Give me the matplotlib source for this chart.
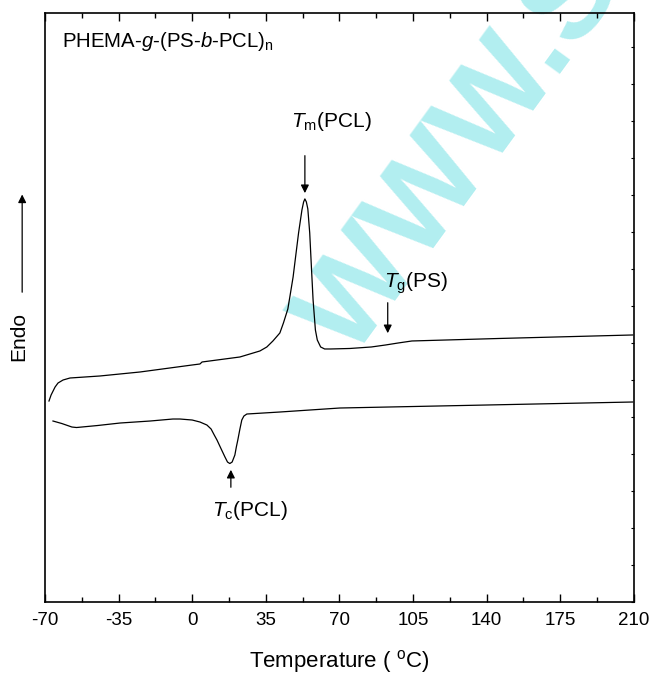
import matplotlib
matplotlib.use("Agg")
import matplotlib.pyplot as plt
from matplotlib.ticker import MultipleLocator

plt.rcParams["font.family"] = ["Liberation Sans", "DejaVu Sans"]
plt.rcParams["mathtext.fontset"] = "custom"
plt.rcParams["mathtext.rm"] = "Liberation Sans"
plt.rcParams["mathtext.it"] = "Liberation Sans:italic"
plt.rcParams["axes.unicode_minus"] = False

# heating scan (upper curve), temperature in C, heat flow in arbitrary units
heat_t = [-68.1, -67.1, -65.2, -63.8, -61.4, -58.1, -43.9, -24.8, 0.0, 3.7,
          4.7, 22.7, 32.2, 35.5, 38.4, 41.7, 43.4, 45.5, 46.6, 48.0, 49.0,
          50.6, 52.2, 53.0, 53.6, 54.3, 55.0, 55.9, 56.7, 57.5, 58.6, 59.5,
          61.1, 63.0, 65.9, 75.0, 85.2, 92.0, 98.0, 104.5, 146.0, 209.5]
heat_q = [2.01, 2.07, 2.15, 2.19, 2.22, 2.24, 2.26, 2.30, 2.37, 2.38,
          2.40, 2.45, 2.51, 2.55, 2.61, 2.69, 2.79, 2.93, 3.07, 3.25, 3.42,
          3.69, 3.92, 4.00, 4.03, 4.00, 3.93, 3.69, 3.35, 3.02, 2.72, 2.62,
          2.55, 2.53, 2.53, 2.535, 2.55, 2.57, 2.59, 2.61, 2.635, 2.67]

# cooling scan (lower curve)
cool_t = [-66.2, -62.0, -57.2, -55.0, -45.0, -34.3, -20.0, -9.2, -5.8, 0.0,
          3.7, 7.0, 9.0, 10.5, 11.8, 13.8, 15.6, 16.8, 17.9, 19.0, 20.3,
          21.0, 21.7, 22.7, 23.6, 24.6, 26.0, 41.7, 70.2, 140.0, 209.5]
cool_q = [1.81, 1.785, 1.75, 1.745, 1.765, 1.79, 1.81, 1.83, 1.83, 1.82,
          1.80, 1.77, 1.73, 1.67, 1.62, 1.53, 1.45, 1.40, 1.385, 1.40, 1.47,
          1.55, 1.62, 1.73, 1.82, 1.86, 1.88, 1.90, 1.94, 1.97, 2.00]

x_ticks = [-70, -35, 0, 35, 70, 105, 140, 175, 210]

fig = plt.figure(figsize=(6.52, 6.75), dpi=100)
ax = fig.add_axes([0.069, 0.108, 0.903, 0.873])

# watermark, drawn under the axes
fig.text(0.429, 0.443, "WWW.S", rotation=54, fontsize=90, fontweight="bold",
         color="#b2eef0", ha="left", va="bottom", zorder=-1)
ax.patch.set_alpha(0)

ax.plot(heat_t, heat_q, color="black", lw=0.9)
ax.plot(cool_t, cool_q, color="black", lw=0.9)

ax.set_xlim(-70, 210)
ax.set_ylim(0, 5.89)
ax.set_xticks(x_ticks)
ax.xaxis.set_minor_locator(MultipleLocator(17.5))
ax.yaxis.set_major_locator(MultipleLocator(0.37))
ax.tick_params(axis="x", which="both", direction="in", top=True, labelsize=13.5, pad=7)
ax.tick_params(axis="x", which="major", length=6, width=1)
ax.tick_params(axis="x", which="minor", length=3.5, width=1)
ax.tick_params(axis="y", which="both", direction="in", left=False, right=True,
               labelleft=False, length=2.5, width=0.8)
for s in ax.spines.values():
    s.set_linewidth(1.2)

ax.set_xlabel("Temperature ( $^{\\rm o}$C)", fontsize=16, labelpad=14)

ax.text(0.029, 0.951, r"PHEMA-$\mathit{g}$-(PS-$\mathit{b}$-PCL)$_{\rm n}$",
        transform=ax.transAxes, fontsize=14.7, ha="left", va="center")

ax.annotate("", xy=(53.6, 4.06), xytext=(53.6, 4.49),
            arrowprops=dict(arrowstyle="-|>", color="black", lw=0.9, mutation_scale=12))
ax.text(66.0, 4.80, r"$\mathit{T}_{\rm m}$(PCL)", fontsize=15, ha="center", va="center")

ax.annotate("", xy=(93.0, 2.66), xytext=(93.0, 3.02),
            arrowprops=dict(arrowstyle="-|>", color="black", lw=0.9, mutation_scale=12))
ax.text(106.4, 3.19, r"$\mathit{T}_{\rm g}$(PS)", fontsize=15, ha="center", va="center")

ax.annotate("", xy=(18.4, 1.35), xytext=(18.4, 1.12),
            arrowprops=dict(arrowstyle="-|>", color="black", lw=0.9, mutation_scale=12))
ax.text(27.5, 0.92, r"$\mathit{T}_{\rm c}$(PCL)", fontsize=15, ha="center", va="center")

# y label with arrow
fig.text(0.029, 0.502, "Endo", rotation=90, fontsize=15, ha="center", va="center")
fig.patches.append(matplotlib.patches.FancyArrowPatch(
    (0.034, 0.563), (0.034, 0.716), transform=fig.transFigure,
    arrowstyle="-|>", mutation_scale=12, color="black", lw=0.9))

fig.savefig("out.png", dpi=100)
